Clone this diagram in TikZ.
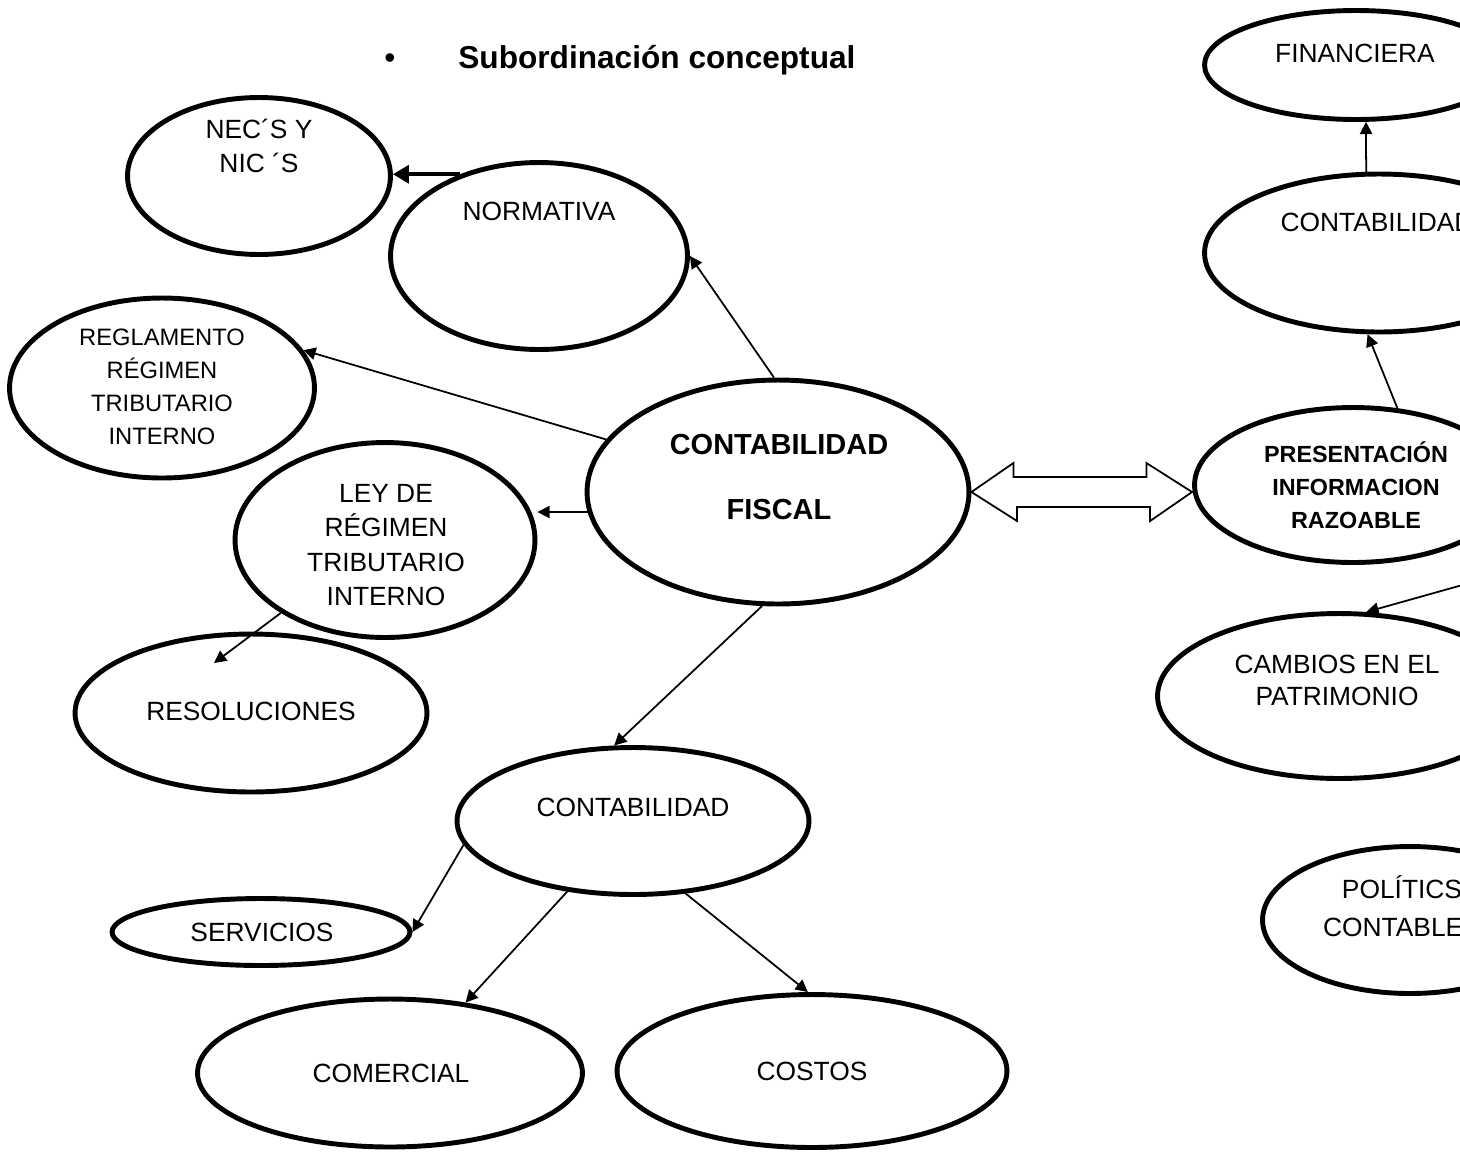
\documentclass[tikz,border=0pt]{standalone}
\usepackage{fontspec}
\setmainfont{Liberation Sans}
\usepackage{tikz}
\usetikzlibrary{shapes.geometric, arrows.meta, calc}
\tikzset{oval/.style = {ellipse,draw,line width=2.8pt,inner sep=0pt}}
\tikzset{txt/.style = {align=center,inner sep=0pt,font=\fontsize{15}{19}\selectfont}}
\tikzset{link/.style = {-{Triangle[length=7pt,width=7pt]},line width=1pt}}

\begin{document}
\begin{tikzpicture}[x=0.02cm, y=-0.02cm]
            \useasboundingbox (0,0) rectangle (1460,1164);
            \clip (0,0) rectangle (1460,1164);

            \node [inner sep=0pt,anchor=base,font=\fontsize{18}{20}\selectfont] (bul) at (390,68) {•};
            \node [inner sep=0pt,anchor=base west,font=\fontsize{18}{20}\selectfont\bfseries] (title) at (458,68) {Subordinación conceptual};

            \node [oval,minimum width=5.26cm,minimum height=3.14cm] (necs) at (259,176) {};
            \node [oval,minimum width=5.94cm,minimum height=3.74cm] (norm) at (539,256) {};
            \node [oval,minimum width=6.10cm,minimum height=3.60cm] (regl) at (162,388) {};
            \node [oval,minimum width=7.64cm,minimum height=4.48cm] (fiscal) at (778,492) {};
            \node [oval,minimum width=6.00cm,minimum height=3.90cm] (ley) at (385,540) {};
            \node [oval,minimum width=7.04cm,minimum height=3.16cm] (resol) at (251,713) {};
            \node [oval,minimum width=7.04cm,minimum height=2.94cm] (contl) at (633,821) {};
            \node [oval,minimum width=5.96cm,minimum height=1.34cm] (serv) at (261,932) {};
            \node [oval,minimum width=7.70cm,minimum height=2.96cm] (comer) at (390,1073) {};
            \node [oval,minimum width=7.80cm,minimum height=3.06cm] (costos) at (812,1071) {};
            \node [oval,minimum width=6.06cm,minimum height=2.18cm] (finan) at (1356,65) {};
            \node [oval,minimum width=6.98cm,minimum height=3.16cm] (contr) at (1379,253) {};
            \node [oval,minimum width=6.34cm,minimum height=3.10cm] (pres) at (1353,485) {};
            \node [oval,minimum width=7.26cm,minimum height=3.30cm] (camb) at (1339,696) {};
            \node [oval,minimum width=5.90cm,minimum height=2.94cm] (pol) at (1410,920) {};

            \node [txt] (tnecs) at (259,146) {NEC´S Y\\NIC ´S};
            \node [txt] (tnorm) at (539,211) {NORMATIVA};
            \node [txt,font=\fontsize{13.5}{18.8}\selectfont] (tregl) at (162,387) {REGLAMENTO\\RÉGIMEN\\TRIBUTARIO\\INTERNO};
            \node [txt,font=\fontsize{16.5}{37.5}\selectfont\bfseries] (tfiscal) at (779,477) {CONTABILIDAD\\FISCAL};
            \node [txt,font=\fontsize{15}{19.5}\selectfont] (tley) at (386,545) {LEY DE\\RÉGIMEN\\TRIBUTARIO\\INTERNO};
            \node [txt] (tresol) at (251,711) {RESOLUCIONES};
            \node [txt] (tcontl) at (633,807) {CONTABILIDAD};
            \node [txt] (tserv) at (262,932) {SERVICIOS};
            \node [txt] (tcomer) at (391,1073) {COMERCIAL};
            \node [txt] (tcostos) at (812,1071) {COSTOS};
            \node [txt] (tfinan) at (1355,53) {FINANCIERA};
            \node [txt] (tcontr) at (1377,222) {CONTABILIDAD};
            \node [txt,font=\fontsize{13.3}{18.8}\selectfont\bfseries] (tpres) at (1356,485) {PRESENTACIÓN\\INFORMACION\\RAZOABLE};
            \node [txt,font=\fontsize{15}{18.2}\selectfont] (tcamb) at (1337,680) {CAMBIOS EN EL\\PATRIMONIO};
            \node [txt,font=\fontsize{15}{21.6}\selectfont] (tpol) at (1402,906) {POLÍTICS\\CONTABLES};

            \coordinate (presout) at (1530,566);
            \coordinate (resolin) at ($(resol.center)+(-37,-50)$);

            \draw [-{Triangle[length=9pt,width=10pt]},line width=2.2pt] (norm.134) -- (norm.134 -| necs.east);
            \draw [link] (fiscal.92) -- (norm.east);
            \draw [link] (fiscal.163) -- (regl.15);
            \draw [link] (fiscal.186) -- (fiscal.186 -| ley.east);
            \draw [link] (ley.215) -- (resolin);
            \draw [link] (fiscal.-98) -- (contl.104);
            \draw [link] (contl.188) -- (serv.east);
            \draw [link] (contl.227) -- (comer.43);
            \draw [link] (contl.-54) -- (costos.93);
            \draw [link] (pres.60) -- (contr.-98);
            \draw [link] (contr.99) -- (finan.-80);
            \draw [link] (presout) -- (camb.72);

            \draw [line width=1pt,line join=miter] (fiscal.east) -- ++(42,-29) -- ++(0,14) -- ++(133,0) -- ++(0,-14)
                -- (fiscal.east -| pres.west) -- ++(-42,29) -- ++(0,-14) -- ++(-133,0) -- ++(0,14) -- cycle;
        \end{tikzpicture}
\end{document}
